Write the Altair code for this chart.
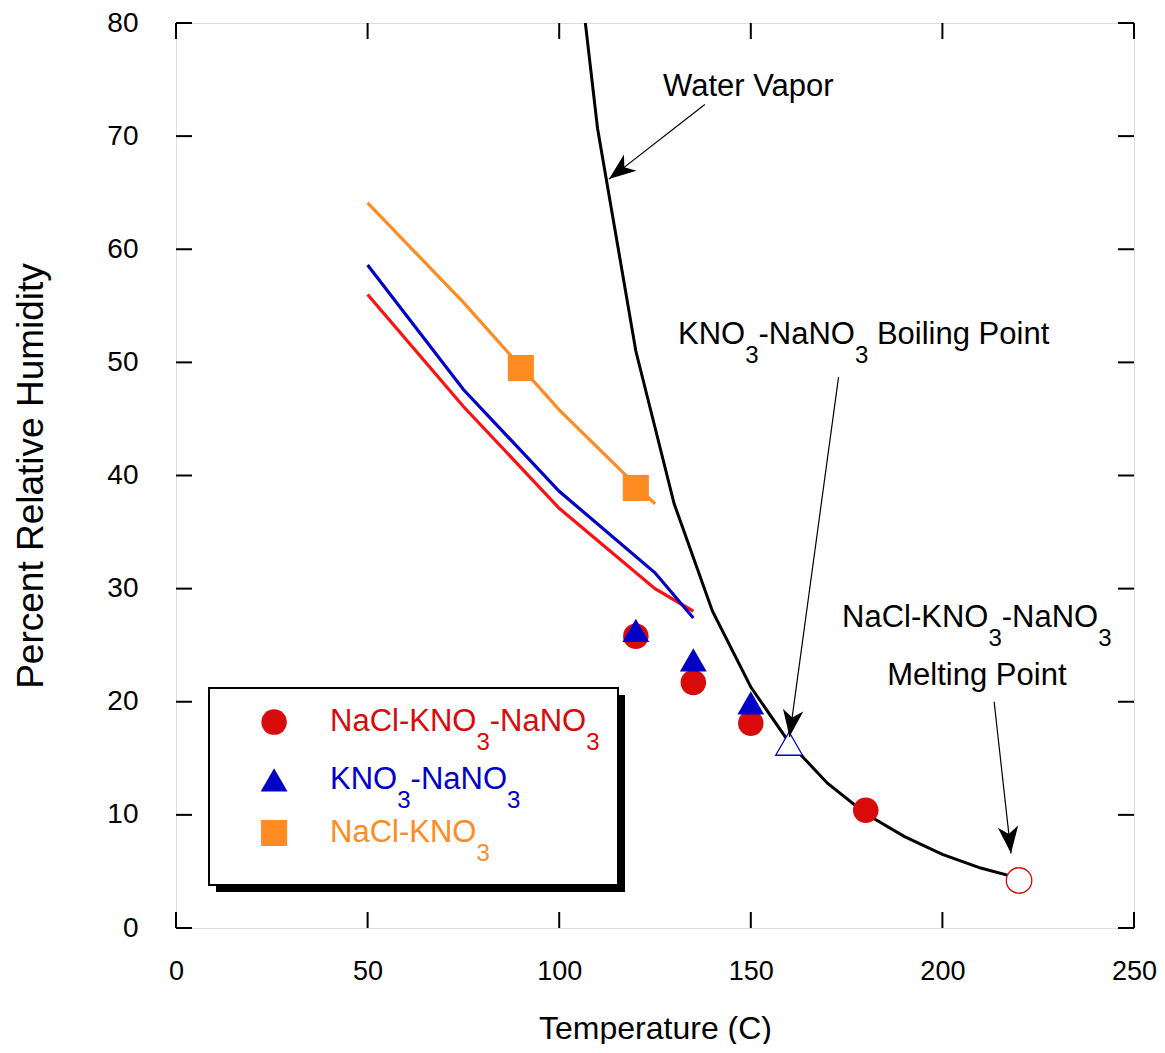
import math
import altair as alt
import pandas as pd

# ---------------- data ----------------
water_T = [100, 110, 120, 130, 140, 150, 160, 170, 180, 190, 200, 210, 220]
water_RH = [100.0, 70.7, 51.0, 37.5, 28.0, 21.3, 16.4, 12.8, 10.1, 8.1, 6.5, 5.3, 4.4]

tern_line_T = [50, 75, 100, 125, 135]
tern_line_RH = [56.0, 46.1, 37.1, 30.0, 28.0]
bin_line_T = [50, 75, 100, 125, 135]
bin_line_RH = [58.6, 47.6, 38.6, 31.4, 27.4]
nk_line_T = [50, 75, 100, 125]
nk_line_RH = [64.1, 55.3, 45.8, 37.5]

tern_pts_T = [120, 135, 150, 180]
tern_pts_RH = [25.8, 21.7, 18.1, 10.4]
bin_pts_T = [120, 135, 150]
bin_pts_RH = [26.3, 23.7, 19.9]
nk_pts_T = [90, 120]
nk_pts_RH = [49.5, 38.9]
boil_T = [160]
boil_RH = [16.3]
melt_T = [220]
melt_RH = [4.2]

x_ticks = [0, 50, 100, 150, 200, 250]
y_ticks = [0, 10, 20, 30, 40, 50, 60, 70, 80]

# ---------------- styling ----------------
W, H = 958, 905
SX, SY = W / 250.0, H / 80.0
FONT = "Liberation Sans"
RED_LINE, RED = "#ff1010", "#d90a0a"
BLUE = "#0000c8"
ORANGE = "#ff8c22"
FS, SUB_FS, SUB_DY = 31, 24, 21

ARIAL = {'N': 722, 'a': 556, 'C': 722, 'l': 222, '-': 333, 'K': 667, 'O': 778, '3': 556,
         ' ': 278, 'B': 667, 'o': 556, 'i': 222, 'n': 556, 'g': 556, 'P': 667, 't': 278,
         'W': 944, 'e': 556, 'r': 333, 'V': 667, 'p': 556, 'M': 833}


def tw(s, fs):
    return sum(ARIAL[c] for c in s) * fs / 1000.0


def pieces(segs, x0, y0, color, align="left"):
    """segs: list of (text, is_sub). x0,y0 in data units."""
    total = sum(tw(t, SUB_FS if s else FS) for t, s in segs)
    start = x0 - (total / 2.0 / SX if align == "center" else 0)
    out, cum = [], 0.0
    for t, s in segs:
        fs = SUB_FS if s else FS
        lead = len(t) - len(t.lstrip(" "))
        off = tw(" " * lead, fs)
        out.append({"x": start + (cum + off) / SX, "y": y0 - (SUB_DY / SY if s else 0),
                    "text": t.strip(" "), "fs": fs, "color": color})
        cum += tw(t, fs)
    return out


xscale = alt.Scale(domain=[0, 250], nice=False, zero=False)
yscale = alt.Scale(domain=[0, 80], nice=False, zero=False)
AX_X = alt.Axis(title="Temperature (C)", values=x_ticks, ticks=False, domain=False, grid=False,
                labelFontSize=27, titleFontSize=32, labelPadding=30, titlePadding=29,
                labelFont=FONT, titleFont=FONT, labelColor="black", titleColor="black",
                titleFontWeight="normal", labelFlush=False, labelOverlap=False, format="d")
AX_Y = alt.Axis(title="Percent Relative Humidity", values=y_ticks, ticks=False, domain=False,
                grid=False, labelFontSize=28, titleFontSize=37, labelPadding=38, titlePadding=56,
                labelFont=FONT, titleFont=FONT, labelColor="black", titleColor="black",
                titleFontWeight="normal", labelFlush=False, labelOverlap=False, format="d")


def X(f):
    return alt.X(f + ":Q", scale=xscale, axis=AX_X)


def Y(f):
    return alt.Y(f + ":Q", scale=yscale, axis=AX_Y)


def line_layer(T, RH, color, width=3.2):
    df = pd.DataFrame({"T": T, "RH": RH, "o": range(len(T))})
    return alt.Chart(df).mark_line(color=color, strokeWidth=width, clip=True).encode(
        x=X("T"), y=Y("RH"), order="o:Q")


def pt_layer(T, RH, shape, color, size, open_=False):
    df = pd.DataFrame({"T": T, "RH": RH})
    if open_:
        m = alt.Chart(df).mark_point(shape=shape, filled=True, fill="white", stroke=color,
                                     strokeWidth=1.3, size=size, opacity=1)
    else:
        m = alt.Chart(df).mark_point(shape=shape, filled=True, color=color, size=size,
                                     opacity=1, strokeWidth=0)
    return m.encode(x=X("T"), y=Y("RH"))


CIRC, TRI, SQ = 650, 720, 680

layers = []
layers.append(line_layer(nk_line_T, nk_line_RH, ORANGE))
layers.append(line_layer(tern_line_T, tern_line_RH, RED_LINE))
layers.append(line_layer(bin_line_T, bin_line_RH, BLUE))
layers.append(line_layer(water_T, water_RH, "black", 3))

layers.append(pt_layer(nk_pts_T, nk_pts_RH, "square", ORANGE, SQ))
layers.append(pt_layer(tern_pts_T, tern_pts_RH, "circle", RED, CIRC))
layers.append(pt_layer(bin_pts_T, bin_pts_RH, "triangle-up", BLUE, TRI))
layers.append(pt_layer(boil_T, boil_RH, "triangle-up", BLUE, TRI, open_=True))
layers.append(pt_layer(melt_T, melt_RH, "circle", RED, CIRC, open_=True))

# ---------------- annotation arrows ----------------
arrows = pd.DataFrame({
    "x": [138.0, 172.9, 213.5],
    "y": [72.8, 48.7, 20.0],
    "x2": [113.0, 160.1, 217.9],
    "y2": [66.2, 16.9, 6.6],
})
arrows["angle"] = [
    (math.degrees(math.atan2((r.x2 - r.x) * SX, (r.y2 - r.y) * SY)) + 360) % 360
    for r in arrows.itertuples()
]
HEAD = "M0,0 L0.38,1 L0,0.72 L-0.38,1 Z"
layers.append(alt.Chart(arrows).mark_rule(color="black", strokeWidth=1.2).encode(
    x=X("x"), y=Y("y"), x2="x2:Q", y2="y2:Q"))
layers.append(alt.Chart(arrows).mark_point(shape=HEAD, filled=True, color="black", size=2900,
                                           opacity=1, strokeWidth=0).encode(
    x=X("x2"), y=Y("y2"), angle=alt.Angle("angle:Q", scale=None)))

# ---------------- legend box ----------------
bx1, bx2 = (212 - 179) / SX, (621 - 179) / SX
by1, by2 = (928 - 688) / SY, (928 - 885) / SY
sh = 7
box = pd.DataFrame({"x": [bx1], "x2": [bx2], "y": [by1], "y2": [by2]})
shadow = pd.DataFrame({"x": [bx1 + sh / SX], "x2": [bx2 + sh / SX],
                       "y": [by1 - sh / SY], "y2": [by2 - sh / SY]})
layers.append(alt.Chart(shadow).mark_rect(color="black").encode(
    x=X("x"), x2="x2:Q", y=Y("y"), y2="y2:Q"))
layers.append(alt.Chart(box).mark_rect(fill="white", stroke="black", strokeWidth=2).encode(
    x=X("x"), x2="x2:Q", y=Y("y"), y2="y2:Q"))

leg_sym_T = 25.6
leg_rows = [18.2, 13.1, 8.4]
layers.append(pt_layer([leg_sym_T], [leg_rows[0]], "circle", RED, CIRC))
layers.append(pt_layer([leg_sym_T], [leg_rows[1]], "triangle-up", BLUE, TRI))
layers.append(pt_layer([leg_sym_T], [leg_rows[2]], "square", ORANGE, SQ))

texts = []
leg_txt_T = 40.2
texts += pieces([("NaCl-KNO", 0), ("3", 1), ("-NaNO", 0), ("3", 1)], leg_txt_T, leg_rows[0], RED)
texts += pieces([("KNO", 0), ("3", 1), ("-NaNO", 0), ("3", 1)], leg_txt_T, leg_rows[1], BLUE)
texts += pieces([("NaCl-KNO", 0), ("3", 1)], leg_txt_T, leg_rows[2], ORANGE)

# ---------------- annotation texts ----------------
texts += pieces([("Water Vapor", 0)], 149.8, 74.3, "black", align="center")
texts += pieces([("KNO", 0), ("3", 1), ("-NaNO", 0), ("3", 1), (" Boiling Point", 0)],
                131.0, 52.4, "black")
texts += pieces([("NaCl-KNO", 0), ("3", 1), ("-NaNO", 0), ("3", 1)], 173.8, 27.4, "black")
texts += pieces([("Melting Point", 0)], 209.0, 22.3, "black", align="center")

tdf = pd.DataFrame(texts)
layers.append(alt.Chart(tdf).mark_text(align="left", baseline="middle", font=FONT).encode(
    x=X("x"), y=Y("y"), text="text:N",
    size=alt.Size("fs:Q", scale=None), color=alt.Color("color:N", scale=None)))

# ---------------- inward tick marks ----------------
TL = 16
xt = pd.DataFrame({"t": x_ticks})
yt = pd.DataFrame({"t": y_ticks})
layers.append(alt.Chart(xt).mark_rule(color="black", strokeWidth=2).encode(
    x=X("t"), y=alt.value(H), y2=alt.value(H - TL)))
layers.append(alt.Chart(xt).mark_rule(color="black", strokeWidth=2).encode(
    x=X("t"), y=alt.value(0), y2=alt.value(TL)))
layers.append(alt.Chart(yt).mark_rule(color="black", strokeWidth=2).encode(
    y=Y("t"), x=alt.value(0), x2=alt.value(TL)))
layers.append(alt.Chart(yt).mark_rule(color="black", strokeWidth=2).encode(
    y=Y("t"), x=alt.value(W), x2=alt.value(W - TL)))

chart = alt.layer(*layers).properties(
    width=W, height=H,
    autosize=alt.AutoSizeParams(type="none"),
    padding={"left": 168, "top": 15, "right": 23, "bottom": 116},
).configure_view(stroke="black", strokeWidth=2.5).configure(background="white")

chart.save("out.html", embed_options={"renderer": "svg", "actions": False})
